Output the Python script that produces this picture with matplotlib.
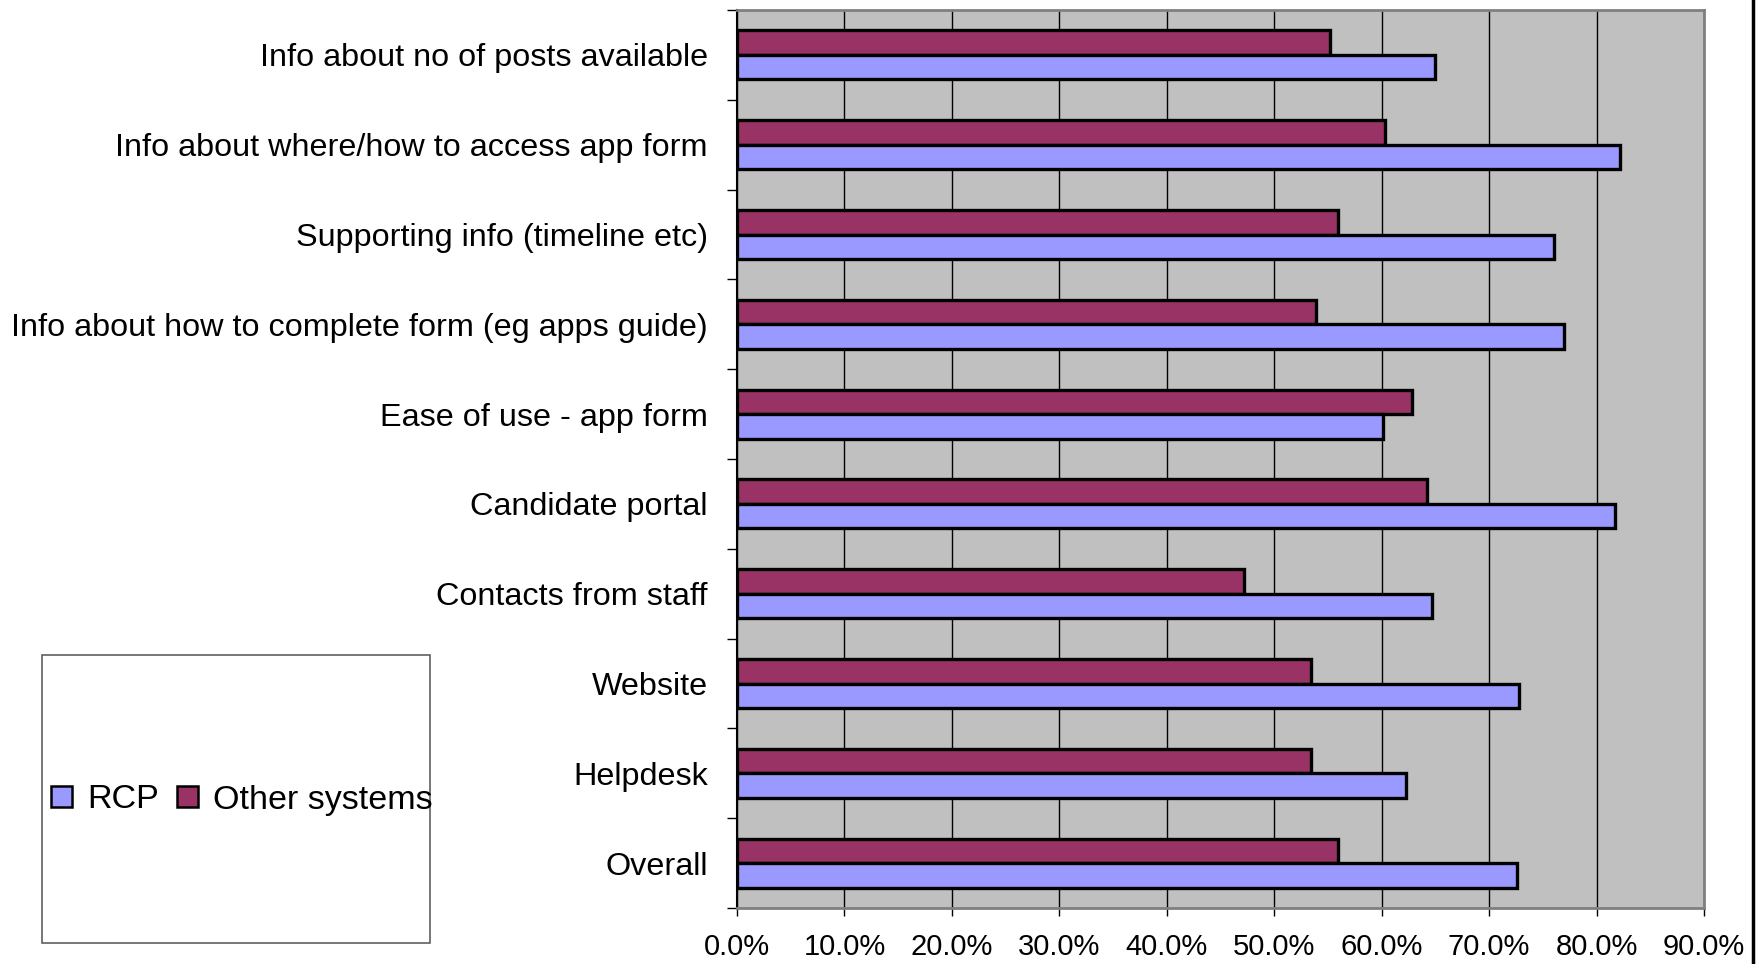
import numpy as np
import matplotlib
matplotlib.use('Agg')
import matplotlib.pyplot as plt
from matplotlib.patches import Patch, Rectangle
from matplotlib.lines import Line2D
from matplotlib.ticker import PercentFormatter, FixedLocator

plt.rcParams['font.family'] = ['Liberation Sans', 'DejaVu Sans']

# Data (in %)
categories = ['Info about no of posts available',
              'Info about where/how to access app form',
              'Supporting info (timeline etc)',
              'Info about how to complete form (eg apps guide)',
              'Ease of use - app form',
              'Candidate portal',
              'Contacts from staff',
              'Website',
              'Helpdesk',
              'Overall']
rcp = [65.0, 82.2, 76.0, 77.0, 60.1, 81.7, 64.7, 72.8, 62.3, 72.6]
other = [55.2, 60.3, 55.9, 53.9, 62.8, 64.2, 47.2, 53.4, 53.4, 55.9]
series_names = ['RCP', 'Other systems']
xticks = np.arange(0, 100, 10)

col_rcp = '#9999FF'
col_other = '#993366'

W, H = 1762, 964
fig = plt.figure(figsize=(W / 100, H / 100), dpi=100)
ax = fig.add_axes([737 / W, 1 - 908 / H, (1704 - 737) / W, (908 - 10) / H])
ax.set_facecolor('#C0C0C0')

y = np.arange(len(categories))
h = 0.273
ax.barh(y - h / 2, other, height=h, color=col_other, edgecolor='black', linewidth=2.4, zorder=3)
ax.barh(y + h / 2, rcp, height=h, color=col_rcp, edgecolor='black', linewidth=2.4, zorder=3)

ax.set_xlim(0, 90)
ax.set_ylim(len(categories) - 0.5, -0.5)
ax.set_xticks(xticks)
ax.xaxis.set_major_formatter(PercentFormatter(xmax=100, decimals=1))
ax.grid(axis='x', color='black', linewidth=1.0, zorder=1)
ax.set_axisbelow(True)

ax.set_yticks(y)
ax.set_yticklabels(categories)
ax.yaxis.set_minor_locator(FixedLocator(np.arange(-0.5, len(categories), 1.0)))
ax.tick_params(axis='y', which='major', length=0, pad=21, labelsize=23.3)
ax.tick_params(axis='y', which='minor', length=7, width=1.0, color='black', direction='out')
ax.tick_params(axis='x', length=6, width=1.0, color='black', direction='out', pad=12, labelsize=21)

for side in ['top', 'right', 'bottom']:
    ax.spines[side].set_color('#808080')
    ax.spines[side].set_linewidth(2.0)
ax.spines['left'].set_color('black')
ax.spines['left'].set_linewidth(1.5)

# legend box
fig.patches.append(Rectangle((42 / W, 1 - 943 / H), (430 - 42) / W, (943 - 655) / H,
                             transform=fig.transFigure, facecolor='white',
                             edgecolor='#606060', linewidth=1.2))
handles = [Patch(facecolor=col_rcp, edgecolor='black', linewidth=1.8, label=series_names[0]),
           Patch(facecolor=col_other, edgecolor='black', linewidth=1.8, label=series_names[1])]
fig.legend(handles=handles, loc='center', bbox_to_anchor=(242 / W, 1 - 800 / H),
           ncol=2, frameon=False, fontsize=24.5, handlelength=0.6, handleheight=0.6,
           handletextpad=0.45, columnspacing=0.55, borderaxespad=0)

# right border line of the chart area
fig.add_artist(Line2D([1753 / W, 1753 / W], [0, 1], transform=fig.transFigure,
                      color='black', linewidth=2.5))

fig.savefig('out.png', dpi=100)
